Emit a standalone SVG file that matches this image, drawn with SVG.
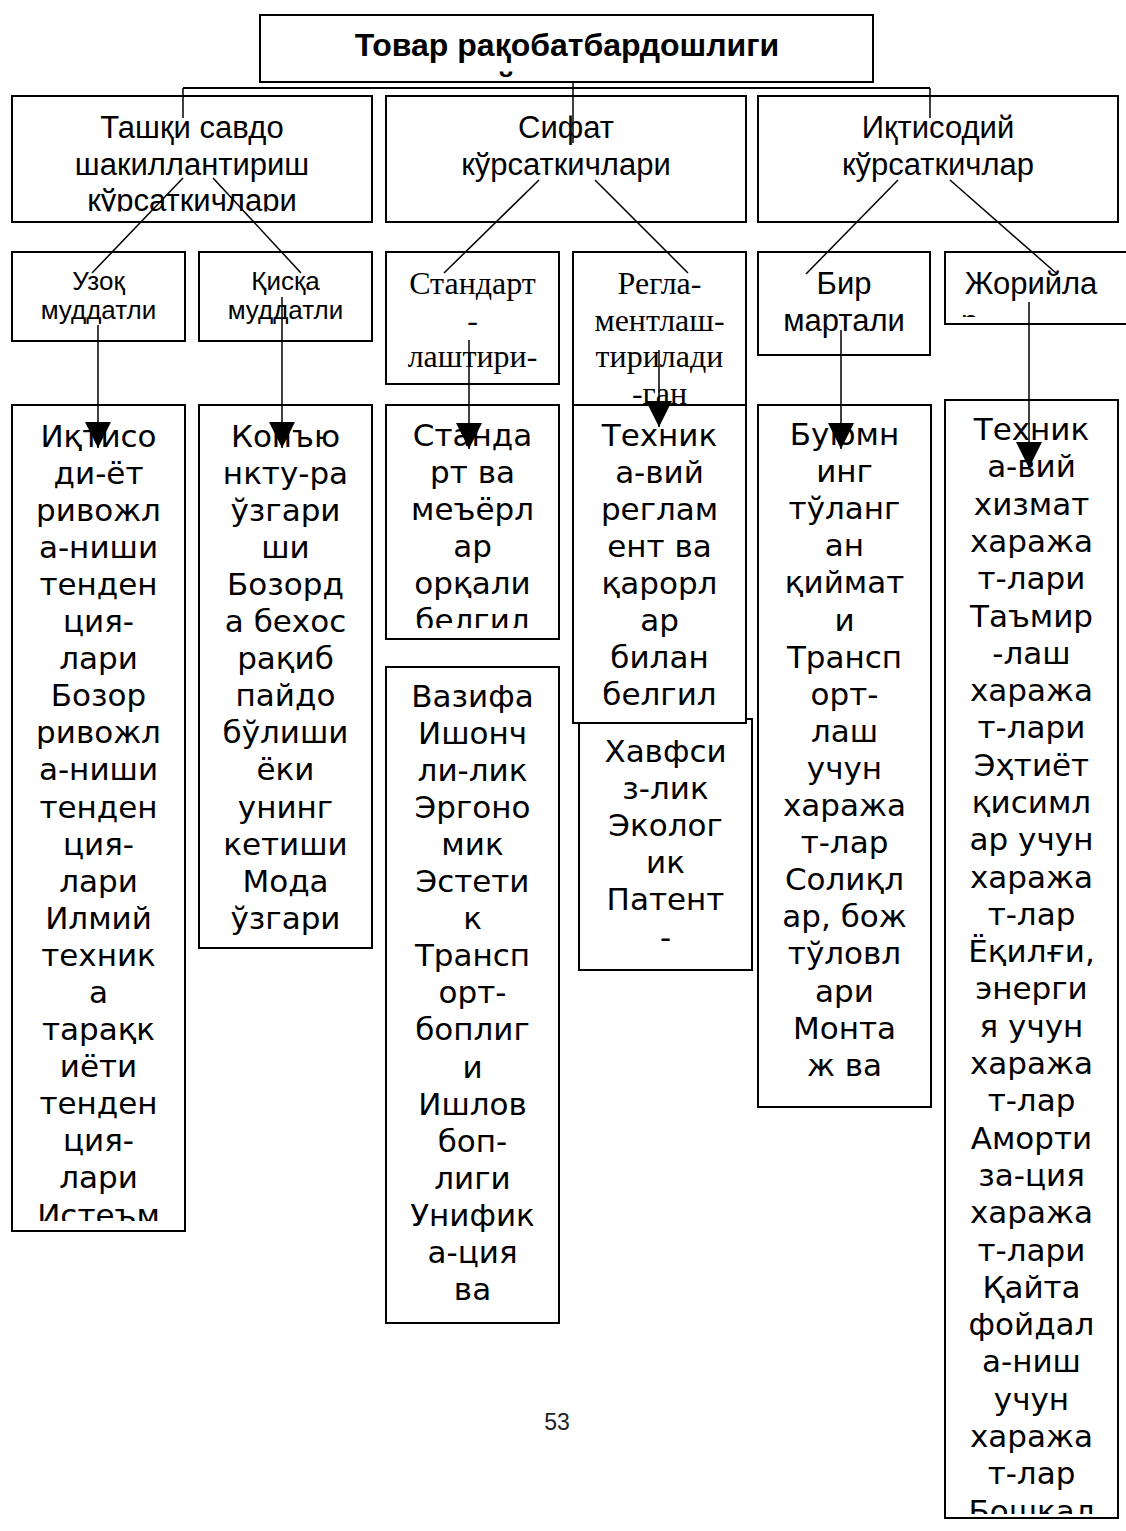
<svg xmlns="http://www.w3.org/2000/svg" width="1126" height="1531" viewBox="0 0 1126 1531">
<style>
.box{fill:#fff;stroke:#000;stroke-width:2}
.ln{stroke:#000;stroke-width:1.5;fill:none}
.ttl{font-family:"Liberation Sans",Arial,sans-serif;font-size:32px;font-weight:bold;text-anchor:middle}
.t1{font-family:"Liberation Sans",Arial,sans-serif;font-size:31px;text-anchor:middle}
.t2{font-family:"Liberation Sans",Arial,sans-serif;font-size:26px;text-anchor:middle}
.ts{font-family:"Liberation Serif","Times New Roman",serif;font-size:32px;text-anchor:middle}
.t3{font-family:"DejaVu Sans",sans-serif;font-size:31px;text-anchor:middle}
.pg{font-family:"Liberation Sans",Arial,sans-serif;font-size:23px;text-anchor:middle;fill:#222}
</style>
<defs>
<marker id="ah" viewBox="0 0 26 26" refX="26" refY="13" markerWidth="26" markerHeight="26" markerUnits="userSpaceOnUse" orient="auto"><path d="M0,0 L26,13 L0,26 z" fill="#000"/></marker>
<clipPath id="cTop"><rect x="262" y="17" width="609" height="61"/></clipPath>
<clipPath id="cA1"><rect x="13" y="97" width="358" height="114.5"/></clipPath>
<clipPath id="cA3"><rect x="13" y="406" width="171" height="815"/></clipPath>
<clipPath id="cB3"><rect x="200" y="406" width="171" height="535"/></clipPath>
<clipPath id="cC3"><rect x="387" y="406" width="171" height="222"/></clipPath>
<clipPath id="cVz"><rect x="387" y="668" width="171" height="648"/></clipPath>
<clipPath id="cRg"><rect x="574" y="253" width="171" height="151"/></clipPath>
<clipPath id="cJr"><rect x="946" y="253" width="180" height="64"/></clipPath>
<clipPath id="cF3"><rect x="946" y="401" width="171" height="1113"/></clipPath>
</defs>

<g id="n-top">
<rect class="box" x="260" y="15" width="613" height="67"/>
<g clip-path="url(#cTop)">
<text class="ttl" x="567" y="56">Товар рақобатбардошлиги</text>
<text class="ttl" x="496" y="95" style="text-anchor:start">й</text>
</g>
</g>

<g id="n-tashqi">
<rect class="box" x="12" y="96" width="360" height="126"/>
<text class="t1" clip-path="url(#cA1)"><tspan x="192" y="138.3">Ташқи савдо</tspan><tspan x="192" dy="36.2">шакиллантириш</tspan><tspan x="192" dy="36.2">кўрсаткичлари</tspan></text>
</g>
<g id="n-sifat">
<rect class="box" x="386" y="96" width="360" height="126"/>
<text class="t1"><tspan x="566" y="138.3">Сифат</tspan><tspan x="566" dy="36.2">кўрсаткичлари</tspan></text>
</g>
<g id="n-iqtisodiy">
<rect class="box" x="758" y="96" width="360" height="126"/>
<text class="t1"><tspan x="938" y="138.3">Иқтисодий</tspan><tspan x="938" dy="36.2">кўрсаткичлар</tspan></text>
</g>

<g id="n-uzoq">
<rect class="box" x="12" y="252" width="173" height="89"/>
<text class="t2"><tspan x="98.5" y="290">Узоқ</tspan><tspan x="98.5" dy="29">муддатли</tspan></text>
</g>
<g id="n-qisqa">
<rect class="box" x="199" y="252" width="173" height="89"/>
<text class="t2"><tspan x="285.5" y="290">Қисқа</tspan><tspan x="285.5" dy="29">муддатли</tspan></text>
</g>
<g id="n-standart">
<rect class="box" x="386" y="252" width="173" height="132"/>
<text class="ts"><tspan x="472.5" y="294">Стандарт</tspan><tspan x="472.5" dy="36.5">-</tspan><tspan x="472.5" dy="36.5">лаштири-</tspan></text>
</g>
<g id="n-regla">
<rect class="box" x="573" y="252" width="173" height="160"/>
<text class="ts" clip-path="url(#cRg)"><tspan x="659.5" y="294">Регла-</tspan><tspan x="659.5" dy="36.5">ментлаш-</tspan><tspan x="659.5" dy="36.5">тирилади</tspan><tspan x="659.5" dy="36.5">-ган</tspan></text>
</g>
<g id="n-bir">
<rect class="box" x="758" y="252" width="172" height="103"/>
<text class="t1"><tspan x="844" y="294">Бир</tspan><tspan x="844" dy="37">мартали</tspan></text>
</g>
<g id="n-joriy">
<rect class="box" x="945" y="252" width="190" height="72"/>
<g clip-path="url(#cJr)">
<text class="t1"><tspan x="1031" y="294">Жорийла</tspan></text>
<text class="t1" style="text-anchor:start" x="961" y="332">р</text>
</g>
</g>

<g id="n-a3">
<rect class="box" x="12" y="405" width="173" height="826"/>
<text class="t3" clip-path="url(#cA3)"><tspan x="98.5" y="446.5">Иқтисо</tspan><tspan x="98.5" dy="37.1">ди-ёт</tspan><tspan x="98.5" dy="37.1">ривожл</tspan><tspan x="98.5" dy="37.1">а-ниши</tspan><tspan x="98.5" dy="37.1">тенден</tspan><tspan x="98.5" dy="37.1">ция-</tspan><tspan x="98.5" dy="37.1">лари</tspan><tspan x="98.5" dy="37.1">Бозор</tspan><tspan x="98.5" dy="37.1">ривожл</tspan><tspan x="98.5" dy="37.1">а-ниши</tspan><tspan x="98.5" dy="37.1">тенден</tspan><tspan x="98.5" dy="37.1">ция-</tspan><tspan x="98.5" dy="37.1">лари</tspan><tspan x="98.5" dy="37.1">Илмий</tspan><tspan x="98.5" dy="37.1">техник</tspan><tspan x="98.5" dy="37.1">а</tspan><tspan x="98.5" dy="37.1">тарақк</tspan><tspan x="98.5" dy="37.1">иёти</tspan><tspan x="98.5" dy="37.1">тенден</tspan><tspan x="98.5" dy="37.1">ция-</tspan><tspan x="98.5" dy="37.1">лари</tspan><tspan x="98.5" dy="37.1">Истеъм</tspan></text>
</g>
<g id="n-b3">
<rect class="box" x="199" y="405" width="173" height="543"/>
<text class="t3" clip-path="url(#cB3)"><tspan x="285.5" y="446.5">Конъю</tspan><tspan x="285.5" dy="37.1">нкту-ра</tspan><tspan x="285.5" dy="37.1">ўзгари</tspan><tspan x="285.5" dy="37.1">ши</tspan><tspan x="285.5" dy="37.1">Бозорд</tspan><tspan x="285.5" dy="37.1">а бехос</tspan><tspan x="285.5" dy="37.1">рақиб</tspan><tspan x="285.5" dy="37.1">пайдо</tspan><tspan x="285.5" dy="37.1">бўлиши</tspan><tspan x="285.5" dy="37.1">ёки</tspan><tspan x="285.5" dy="37.1">унинг</tspan><tspan x="285.5" dy="37.1">кетиши</tspan><tspan x="285.5" dy="37.1">Мода</tspan><tspan x="285.5" dy="37.1">ўзгари</tspan></text>
</g>
<g id="n-c3">
<rect class="box" x="386" y="405" width="173" height="234"/>
<text class="t3" clip-path="url(#cC3)"><tspan x="472.5" y="445.5">Станда</tspan><tspan x="472.5" dy="37.1">рт ва</tspan><tspan x="472.5" dy="37.1">меъёрл</tspan><tspan x="472.5" dy="37.1">ар</tspan><tspan x="472.5" dy="37.1">орқали</tspan><tspan x="472.5" dy="37.1">белгил</tspan></text>
</g>
<g id="n-vazifa">
<rect class="box" x="386" y="667" width="173" height="656"/>
<text class="t3" clip-path="url(#cVz)"><tspan x="472.5" y="706.5">Вазифа</tspan><tspan x="472.5" dy="37.1">Ишонч</tspan><tspan x="472.5" dy="37.1">ли-лик</tspan><tspan x="472.5" dy="37.1">Эргоно</tspan><tspan x="472.5" dy="37.1">мик</tspan><tspan x="472.5" dy="37.1">Эстети</tspan><tspan x="472.5" dy="37.1">к</tspan><tspan x="472.5" dy="37.1">Трансп</tspan><tspan x="472.5" dy="37.1">орт-</tspan><tspan x="472.5" dy="37.1">боплиг</tspan><tspan x="472.5" dy="37.1">и</tspan><tspan x="472.5" dy="37.1">Ишлов</tspan><tspan x="472.5" dy="37.1">боп-</tspan><tspan x="472.5" dy="37.1">лиги</tspan><tspan x="472.5" dy="37.1">Унифик</tspan><tspan x="472.5" dy="37.1">а-ция</tspan><tspan x="472.5" dy="37.1">ва</tspan></text>
</g>
<g id="n-xavfsiz">
<rect class="box" x="579" y="719" width="173" height="251"/>
<text class="t3"><tspan x="665.5" y="762">Хавфси</tspan><tspan x="665.5" dy="37.1">з-лик</tspan><tspan x="665.5" dy="37.1">Эколог</tspan><tspan x="665.5" dy="37.1">ик</tspan><tspan x="665.5" dy="37.1">Патент</tspan><tspan x="665.5" dy="37.1">-</tspan></text>
</g>
<g id="n-texnik">
<rect class="box" x="573" y="405" width="173" height="318"/>
<text class="t3"><tspan x="659.5" y="445.5">Техник</tspan><tspan x="659.5" dy="37.1">а-вий</tspan><tspan x="659.5" dy="37.1">реглам</tspan><tspan x="659.5" dy="37.1">ент ва</tspan><tspan x="659.5" dy="37.1">қарорл</tspan><tspan x="659.5" dy="37.1">ар</tspan><tspan x="659.5" dy="37.1">билан</tspan><tspan x="659.5" dy="37.1">белгил</tspan></text>
</g>
<g id="n-buyum">
<rect class="box" x="758" y="405" width="173" height="702"/>
<text class="t3"><tspan x="844.5" y="445">Буюмн</tspan><tspan x="844.5" dy="37.1">инг</tspan><tspan x="844.5" dy="37.1">тўланг</tspan><tspan x="844.5" dy="37.1">ан</tspan><tspan x="844.5" dy="37.1">қиймат</tspan><tspan x="844.5" dy="37.1">и</tspan><tspan x="844.5" dy="37.1">Трансп</tspan><tspan x="844.5" dy="37.1">орт-</tspan><tspan x="844.5" dy="37.1">лаш</tspan><tspan x="844.5" dy="37.1">учун</tspan><tspan x="844.5" dy="37.1">хаража</tspan><tspan x="844.5" dy="37.1">т-лар</tspan><tspan x="844.5" dy="37.1">Солиқл</tspan><tspan x="844.5" dy="37.1">ар, бож</tspan><tspan x="844.5" dy="37.1">тўловл</tspan><tspan x="844.5" dy="37.1">ари</tspan><tspan x="844.5" dy="37.1">Монта</tspan><tspan x="844.5" dy="37.1">ж ва</tspan></text>
</g>
<g id="n-f3">
<rect class="box" x="945" y="400" width="173" height="1118"/>
<text class="t3" clip-path="url(#cF3)"><tspan x="1031.5" y="440">Техник</tspan><tspan x="1031.5" dy="37.3">а-вий</tspan><tspan x="1031.5" dy="37.3">хизмат</tspan><tspan x="1031.5" dy="37.3">хаража</tspan><tspan x="1031.5" dy="37.3">т-лари</tspan><tspan x="1031.5" dy="37.3">Таъмир</tspan><tspan x="1031.5" dy="37.3">-лаш</tspan><tspan x="1031.5" dy="37.3">хаража</tspan><tspan x="1031.5" dy="37.3">т-лари</tspan><tspan x="1031.5" dy="37.3">Эҳтиёт</tspan><tspan x="1031.5" dy="37.3">қисимл</tspan><tspan x="1031.5" dy="37.3">ар учун</tspan><tspan x="1031.5" dy="37.3">хаража</tspan><tspan x="1031.5" dy="37.3">т-лар</tspan><tspan x="1031.5" dy="37.3">Ёқилғи,</tspan><tspan x="1031.5" dy="37.3">энерги</tspan><tspan x="1031.5" dy="37.3">я учун</tspan><tspan x="1031.5" dy="37.3">хаража</tspan><tspan x="1031.5" dy="37.3">т-лар</tspan><tspan x="1031.5" dy="37.3">Аморти</tspan><tspan x="1031.5" dy="37.3">за-ция</tspan><tspan x="1031.5" dy="37.3">хаража</tspan><tspan x="1031.5" dy="37.3">т-лари</tspan><tspan x="1031.5" dy="37.3">Қайта</tspan><tspan x="1031.5" dy="37.3">фойдал</tspan><tspan x="1031.5" dy="37.3">а-ниш</tspan><tspan x="1031.5" dy="37.3">учун</tspan><tspan x="1031.5" dy="37.3">хаража</tspan><tspan x="1031.5" dy="37.3">т-лар</tspan><tspan x="1031.5" dy="37.3">Бошқал</tspan></text>
</g>

<g id="connectors">
<line class="ln" x1="183" y1="88" x2="930" y2="88" style="stroke-width:2"/>
<line class="ln" x1="183" y1="88" x2="183" y2="118"/>
<line class="ln" x1="573" y1="82" x2="573" y2="143"/>
<line class="ln" x1="930" y1="88" x2="930" y2="118"/>
<line class="ln" x1="183" y1="178" x2="92" y2="273"/>
<line class="ln" x1="213" y1="178" x2="301" y2="273"/>
<line class="ln" x1="539" y1="180" x2="444" y2="273"/>
<line class="ln" x1="595" y1="180" x2="688" y2="273"/>
<line class="ln" x1="898" y1="180" x2="806" y2="274"/>
<line class="ln" x1="950" y1="180" x2="1056" y2="273"/>
<line class="ln" x1="98" y1="325" x2="98" y2="448" marker-end="url(#ah)"/>
<line class="ln" x1="282" y1="297" x2="282" y2="448" marker-end="url(#ah)"/>
<line class="ln" x1="469" y1="340" x2="469" y2="449" marker-end="url(#ah)"/>
<line class="ln" x1="659" y1="350" x2="659" y2="427" marker-end="url(#ah)"/>
<line class="ln" x1="841" y1="330" x2="841" y2="449" marker-end="url(#ah)"/>
<line class="ln" x1="1029" y1="302" x2="1029" y2="468" marker-end="url(#ah)"/>
</g>

<text class="pg" x="557" y="1430">53</text>
</svg>
